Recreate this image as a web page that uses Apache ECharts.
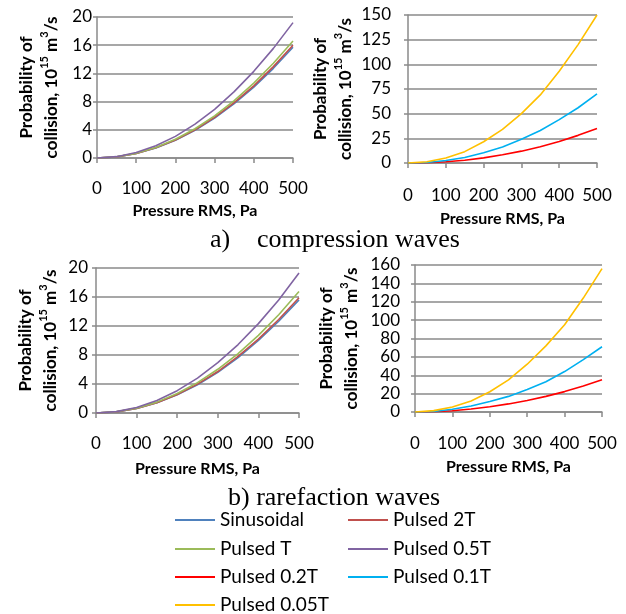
<!DOCTYPE html>
<html>
<head>
<meta charset="utf-8">
<script src="https://cdn.jsdelivr.net/npm/echarts@6/dist/echarts.min.js"></script>
<style>
html,body{margin:0;padding:0;background:#fff;}
#c{width:626px;height:614px;}
</style>
</head>
<body>
<div id="c"></div>
<script>
// Pressure RMS, Pa
var pressure = [0, 50, 100, 150, 200, 250, 300, 350, 400, 450, 500];

// a) compression waves — left panel
var compSinusoidal = [0, 0.16, 0.63, 1.41, 2.52, 3.93, 5.65, 7.7, 10.05, 12.72, 15.7];
var comp2T         = [0, 0.16, 0.64, 1.44, 2.56, 4.0, 5.76, 7.84, 10.24, 12.96, 16.0];
var compT          = [0, 0.17, 0.66, 1.49, 2.65, 4.15, 5.98, 8.13, 10.62, 13.44, 16.6];
var comp05T        = [0, 0.19, 0.77, 1.73, 3.07, 4.8, 6.91, 9.41, 12.29, 15.55, 19.2];
// a) compression waves — right panel
var comp02T        = [0, 0.3, 1.2, 2.8, 5.2, 8.3, 12.0, 16.5, 21.8, 28.0, 35.0];
var comp01T        = [0, 0.5, 2.5, 5.6, 10.3, 16.3, 24.0, 33.0, 44.0, 56.0, 70.0];
var comp005T       = [0, 1.2, 5.0, 11.5, 21.5, 34.0, 50.0, 69.0, 93.0, 120.0, 150.0];

// b) rarefaction waves — left panel
var rarSinusoidal  = [0, 0.16, 0.62, 1.4, 2.5, 3.9, 5.6, 7.65, 10.0, 12.65, 15.6];
var rar2T          = [0, 0.16, 0.64, 1.43, 2.55, 3.98, 5.72, 7.8, 10.2, 12.9, 15.9];
var rarT           = [0, 0.17, 0.67, 1.5, 2.68, 4.19, 6.03, 8.2, 10.7, 13.55, 16.75];
var rar05T         = [0, 0.19, 0.77, 1.73, 3.08, 4.82, 6.94, 9.44, 12.33, 15.6, 19.3];
// b) rarefaction waves — right panel
var rar02T         = [0, 0.3, 1.4, 3.2, 5.7, 8.8, 12.6, 17.0, 22.2, 28.2, 35.0];
var rar01T         = [0, 0.6, 3.0, 6.5, 11.5, 17.0, 24.5, 33.0, 44.0, 57.0, 71.0];
var rar005T        = [0, 1.5, 5.5, 12.0, 22.0, 35.0, 52.0, 72.0, 95.0, 124.0, 156.0];

var xTicks = {min: 0, max: 500, interval: 100};
var yLeft = {min: 0, max: 20, interval: 4};
var yCompRight = {min: 0, max: 150, interval: 25};
var yRarRight = {min: 0, max: 160, interval: 20};

var colors = {
  'Sinusoidal': '#4F81BD', 'Pulsed 2T': '#C0504D', 'Pulsed T': '#9BBB59',
  'Pulsed 0.5T': '#8064A2', 'Pulsed 0.2T': '#FF0000', 'Pulsed 0.1T': '#00B0F0',
  'Pulsed 0.05T': '#FFC000'
};

function pairs(ys) {
  return pressure.map(function (p, i) { return [p, ys[i]]; });
}

var FONT = 'Lato, "Noto Sans", sans-serif';
var SERIF = '"Liberation Serif", "Times New Roman", serif';
var GRAY = '#8A8A8A';

var grids = [
  {left: 97, top: 17, width: 196, height: 141},
  {left: 408, top: 15, width: 189, height: 148},
  {left: 96, top: 268, width: 203, height: 145},
  {left: 415, top: 265, width: 187, height: 147}
];
var yRanges = [yLeft, yCompRight, yLeft, yRarRight];
var yNameGaps = [33, 50, 33, 51];
var yLabelMargins = [5, 17, 8, 15];
var xLabelMargins = [22, 24, 22, 23];
var xNameGaps = [45, 48, 48, 47];

var yName = '{b|Probability of}\n{b|collision, 10}{sup|15}{b| m}{sup|3}{b|/s}';

var xAxes = grids.map(function (g, i) {
  return {
    type: 'value', gridIndex: i, min: xTicks.min, max: xTicks.max, interval: xTicks.interval,
    name: 'Pressure RMS, Pa', nameLocation: 'middle', nameGap: xNameGaps[i],
    nameTextStyle: {fontFamily: FONT, fontWeight: 'bold', fontSize: 16, color: '#000'},
    axisLine: {show: true, lineStyle: {color: GRAY, width: 1.5}},
    axisTick: {show: true, length: 5, lineStyle: {color: GRAY, width: 1.5}},
    axisLabel: {margin: xLabelMargins[i], fontFamily: FONT, fontSize: 17, color: '#000'},
    splitLine: {show: false}
  };
});

var yAxes = grids.map(function (g, i) {
  var r = yRanges[i];
  return {
    type: 'value', gridIndex: i, min: r.min, max: r.max, interval: r.interval,
    name: yName, nameLocation: 'middle', nameGap: yNameGaps[i], nameRotate: 90,
    nameTextStyle: {
      fontFamily: FONT, fontWeight: 'bold', fontSize: 17, color: '#000', lineHeight: 25,
      rich: {
        b: {fontFamily: FONT, fontWeight: 'bold', fontSize: 17, color: '#000', lineHeight: 25},
        sup: {fontFamily: FONT, fontWeight: 'bold', fontSize: 11, color: '#000', lineHeight: 25, verticalAlign: 'top'}
      }
    },
    axisLine: {show: true, lineStyle: {color: GRAY, width: 1.5}},
    axisTick: {show: true, length: 4, lineStyle: {color: GRAY, width: 1.5}},
    axisLabel: {margin: yLabelMargins[i], fontFamily: FONT, fontSize: 17, color: '#000'},
    splitLine: {show: true, lineStyle: {color: GRAY, width: 1.5}}
  };
});

function line(name, data, idx) {
  return {
    name: name, type: 'line', xAxisIndex: idx, yAxisIndex: idx, data: pairs(data),
    showSymbol: false, symbol: 'none', smooth: false,
    lineStyle: {color: colors[name], width: 1.6}, itemStyle: {color: colors[name]},
    animation: false
  };
}

var series = [
  line('Sinusoidal', compSinusoidal, 0),
  line('Pulsed 2T', comp2T, 0),
  line('Pulsed T', compT, 0),
  line('Pulsed 0.5T', comp05T, 0),
  line('Pulsed 0.2T', comp02T, 1),
  line('Pulsed 0.1T', comp01T, 1),
  line('Pulsed 0.05T', comp005T, 1),
  line('Sinusoidal', rarSinusoidal, 2),
  line('Pulsed 2T', rar2T, 2),
  line('Pulsed T', rarT, 2),
  line('Pulsed 0.5T', rar05T, 2),
  line('Pulsed 0.2T', rar02T, 3),
  line('Pulsed 0.1T', rar01T, 3),
  line('Pulsed 0.05T', rar005T, 3)
];

// legend layout: [name, left, rowCenterY]
var legendSlots = [
  ['Sinusoidal', 175, 520], ['Pulsed 2T', 348, 520],
  ['Pulsed T', 175, 549], ['Pulsed 0.5T', 348, 549],
  ['Pulsed 0.2T', 175, 577], ['Pulsed 0.1T', 348, 577],
  ['Pulsed 0.05T', 175, 605]
];
var legends = legendSlots.map(function (s) {
  return {
    orient: 'horizontal', icon: 'rect', itemWidth: 40, itemHeight: 2, itemGap: 0,
    selectedMode: false, padding: 0, left: s[1], top: s[2] - 10,
    textStyle: {fontFamily: FONT, fontSize: 19, color: '#000', lineHeight: 20, padding: [0, 0, 0, 0]},
    data: [{name: s[0], itemStyle: {color: colors[s[0]]}}]
  };
});

var chart = echarts.init(document.getElementById('c'), null, {renderer: 'canvas'});
chart.setOption({
  backgroundColor: '#fff',
  animation: false,
  grid: grids,
  xAxis: xAxes,
  yAxis: yAxes,
  legend: legends,
  series: series,
  graphic: [
    {type: 'text', left: 210, top: 227, style: {text: 'a)', fontFamily: SERIF, fontSize: 26, fill: '#000'}},
    {type: 'text', left: 257, top: 227, style: {text: 'compression waves', fontFamily: SERIF, fontSize: 26, fill: '#000'}},
    {type: 'text', left: 228, top: 485, style: {text: 'b) rarefaction waves', fontFamily: SERIF, fontSize: 26, fill: '#000'}}
  ]
});
</script>
</body>
</html>
